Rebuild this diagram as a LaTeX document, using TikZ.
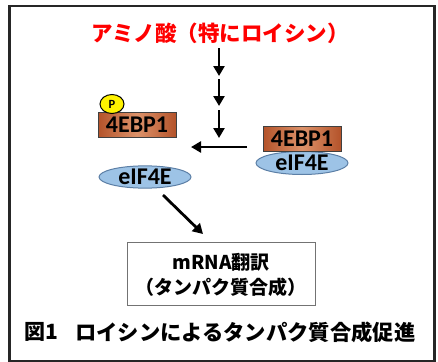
\documentclass[tikz,border=0pt]{standalone}
\usepackage{fontspec}
\setmainfont{Carlito}
\newfontfamily\jp{Noto Sans CJK JP}
\usetikzlibrary{arrows.meta,shapes.geometric}
\definecolor{brownedge}{HTML}{B4532A}
\definecolor{brownmid}{HTML}{DC926A}
\definecolor{bluefill}{HTML}{9DC3E6}
\definecolor{blueedge}{HTML}{5C7FA6}
\definecolor{titlered}{HTML}{FF0000}
\tikzset{
  ebp/.style={draw=black!75, line width=1pt, left color=brownedge, right color=brownedge, middle color=brownmid,
    minimum width=78pt, minimum height=25pt, inner sep=0pt, font=\fontsize{24}{24}\selectfont\bfseries},
  eif/.style={ellipse, draw=blueedge, line width=1pt, fill=bluefill, minimum width=92pt, minimum height=23pt,
    inner sep=0pt, font=\fontsize{24}{24}\selectfont\bfseries},
  phos/.style={ellipse, draw=black, line width=1pt, fill=yellow, minimum width=24pt, minimum height=19pt,
    inner sep=0pt, font=\fontsize{12.5}{12.5}\selectfont\bfseries},
  arr/.style={line width=2.8pt, -{Triangle[length=10pt,width=11pt]}},
}
\begin{document}
\begin{tikzpicture}[x=1pt,y=-1pt]
\useasboundingbox (0,0) rectangle (438,361);
\node[draw=black!85, line width=2.5pt, minimum width=425pt, minimum height=355pt, inner sep=0pt, anchor=north west] (frame) at (8,5) {};
\node[text=titlered, font=\jp\bfseries\fontsize{21.5}{22}\selectfont] (title) at (220,33) {アミノ酸（特にロイシン）};
% vertical arrows
\coordinate (v1) at (219,48); \coordinate (v2) at (219,76);
\coordinate (v3) at (219,79); \coordinate (v4) at (219,106);
\coordinate (v5) at (219,110); \coordinate (v6) at (219,138);
\draw[arr] (v1) -- (v2);
\draw[arr] (v3) -- (v4);
\draw[arr] (v5) -- (v6);
% right complex
\node[eif] (eifR) at (302,163) {eIF4E};
\node[ebp] (ebpR) at (302,139) {4EBP1};
% left
\node[ebp] (ebpL) at (137,124.5) {4EBP1};
\node[phos] (P) at (112,104) {P};
\node[eif, minimum height=21pt] (eifL) at (145,177) {eIF4E};
% horizontal arrow
\coordinate (h1) at (247,147); \coordinate (h2) at (191,147);
\draw[arr] (h1) -- (h2);
% mRNA box
\node[draw=black!55, line width=1.3pt, minimum width=188pt, minimum height=63pt, inner sep=0pt, anchor=north west] (mrna) at (127,242) {};
\node[font=\jp\bfseries\fontsize{19}{20}\selectfont] (m1) at (221,262) {mRNA翻訳};
\node[font=\jp\bfseries\fontsize{19}{20}\selectfont] (m2) at (221,287) {（タンパク質合成）};
\coordinate (d1) at (163,195);
\coordinate (d2) at (203,234);
\draw[arr] (d1) -- (d2);
% caption
\node[anchor=west, inner sep=0pt, font=\jp\bfseries\fontsize{21}{22}\selectfont] (cap1) at (24,332) {図1};
\node[anchor=west, inner sep=0pt, font=\jp\bfseries\fontsize{21.3}{22}\selectfont] (cap2) at (75,332) {ロイシンによるタンパク質合成促進};
\end{tikzpicture}
\end{document}
